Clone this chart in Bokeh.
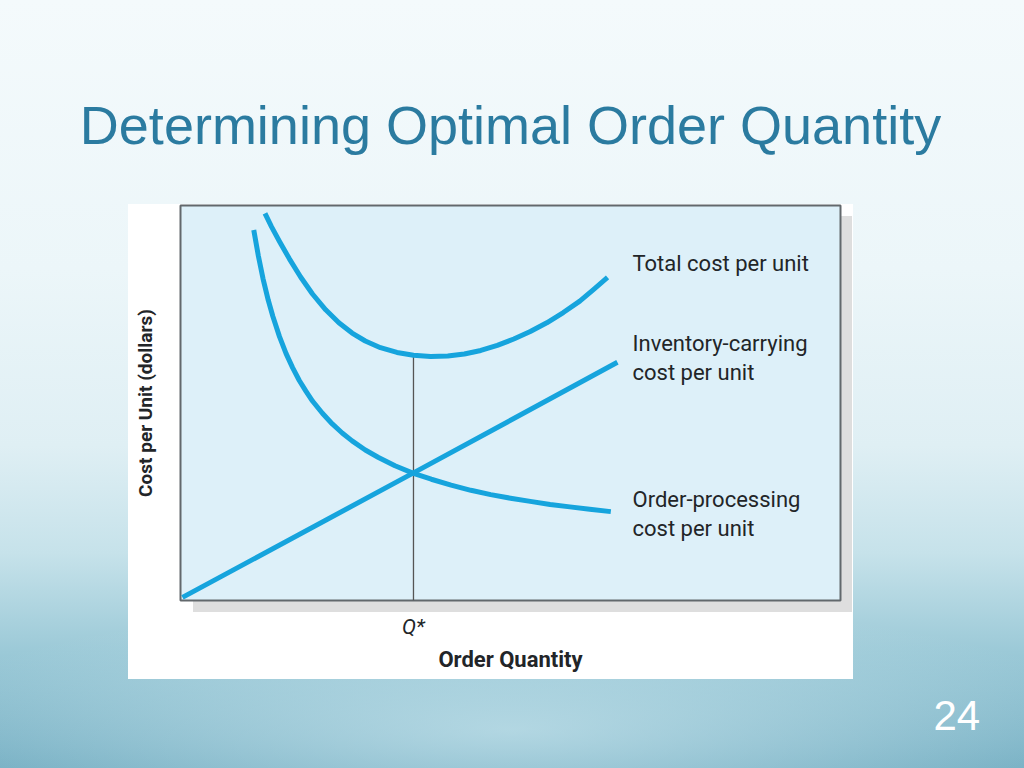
import numpy as np
from bokeh.plotting import figure
from bokeh.models import Title, FixedTicker, Range1d
from bokeh.core.properties import value
from bokeh.embed import file_html
from bokeh.resources import INLINE

# ---------------- data (arbitrary units 0-100) ----------------
total_x = [12.8, 13.8, 15.0, 16.5, 18.2, 20.0, 22.0, 24.0, 26.0, 28.0, 30.3, 32.8, 35.3,
           37.9, 40.5, 43.0, 45.5, 48.0, 50.5, 53.0, 55.5, 58.0, 60.5, 62.7, 64.7]
total_y = [98.0, 94.6, 90.9, 86.5, 81.9, 77.6, 73.6, 70.3, 67.7, 65.7, 64.0, 62.8, 62.1,
           61.8, 61.9, 62.4, 63.3, 64.6, 66.2, 68.1, 70.3, 72.9, 75.8, 78.9, 81.8]

carry_x = [0.3, 35.3, 66.2]
carry_y = [0.8, 32.3, 60.3]

order_x = [11.1, 11.8, 12.5, 13.3, 14.0, 15.0, 16.0, 17.0, 18.0, 19.0, 20.0, 21.5, 23.0,
           24.5, 26.0, 28.0, 30.0, 32.5, 35.3, 38.0, 41.0, 44.0, 47.0, 50.0, 53.0, 56.0,
           59.0, 62.0, 65.2]
order_y = [93.8, 87.2, 81.5, 76.0, 71.9, 66.8, 62.5, 58.9, 55.7, 53.0, 50.5, 47.4, 44.7,
           42.4, 40.4, 38.1, 36.2, 34.1, 32.2, 30.7, 29.2, 27.9, 26.8, 25.9, 25.1, 24.3,
           23.7, 23.1, 22.5]

q_star = 35.3
q_star_label = "Q*"
series_labels = ["Total cost per unit",
                 "Inventory-carrying\ncost per unit",
                 "Order-processing\ncost per unit"]
title_text = "Determining Optimal Order Quantity"
x_title = "Order Quantity"
y_title = "Cost per Unit (dollars)"
slide_number = "24"

# ---------------- layout (page pixel geometry) ----------------
W, H = 1024, 768
FL, FR, FT, FB = 180, 840, 205, 600      # plot frame in page pixels
PX_X = 100.0 / (FR - FL)                 # data units per horizontal pixel
PX_Y = 100.0 / (FB - FT)                 # data units per vertical pixel

COND = "Roboto"
SANS = "Liberation Sans"
LINE = "#16a4dd"
INK = "#222528"

p = figure(width=W, height=H, x_range=Range1d(0, 100), y_range=Range1d(0, 100),
           min_border_left=FL, min_border_right=W - FR,
           min_border_top=FT, min_border_bottom=H - FB,
           output_backend="svg", toolbar_location=None)
p.grid.visible = False
p.background_fill_color = "#ddf0f9"
p.border_fill_alpha = 0
p.outline_line_color = "#62686c"
p.outline_line_width = 2

# slide background, white chart card and its drop shadow (page decoration, CSS)
p.styles = {"background": (
    "linear-gradient(#dedede, #dedede) 193px 216px / 659px 396px no-repeat, "
    "linear-gradient(#ffffff, #ffffff) 128px 204px / 725px 475px no-repeat, "
    "radial-gradient(ellipse 620px 130px at 50% 95%, rgba(205,232,240,0.65), "
    "rgba(205,232,240,0) 100%), "
    "linear-gradient(180deg, #f4fafc 0%, #ecf6f9 35%, #dfeff4 58%, "
    "#c6e2ea 72%, #9bc9d7 85%, #74aec2 100%)")}

# Q* drop line
q_top = float(np.interp(q_star, total_x, total_y))
p.segment(x0=[q_star], y0=[0], x1=[q_star], y1=[q_top], line_color="#555555",
          line_width=1.3)

for xs, ys in ((carry_x, carry_y), (order_x, order_y), (total_x, total_y)):
    p.line(xs, ys, line_color=LINE, line_width=5, line_join="round")

# series labels next to the curve ends
lab_x = [(632 - FL) * PX_X] * 3
lab_y = [total_y[-1] + 14 * PX_Y, carry_y[-1] + 4 * PX_Y, order_y[-1] - 2 * PX_Y]
p.text(x=lab_x, y=lab_y, text=series_labels, text_font=value(COND),
       text_font_size="22px", text_color=INK, text_align="left",
       text_baseline="middle", text_line_height=1.15)

# axes
p.xaxis.ticker = FixedTicker(ticks=[q_star])
p.xaxis.major_label_overrides = {q_star: q_star_label}
p.xaxis.major_label_text_font = COND
p.xaxis.major_label_text_font_style = "italic"
p.xaxis.major_label_text_font_size = "21px"
p.xaxis.major_label_text_color = INK
p.xaxis.major_label_standoff = 14
p.xaxis.axis_label = x_title
p.xaxis.axis_label_text_font = COND
p.xaxis.axis_label_text_font_style = "bold"
p.xaxis.axis_label_text_font_size = "22px"
p.xaxis.axis_label_text_color = INK
p.xaxis.axis_label_standoff = 5

p.yaxis.ticker = FixedTicker(ticks=[])
p.yaxis.axis_label = y_title
p.yaxis.axis_label_text_font = COND
p.yaxis.axis_label_text_font_style = "bold"
p.yaxis.axis_label_text_font_size = "19px"
p.yaxis.axis_label_text_color = INK
p.yaxis.axis_label_standoff = 24

for ax in (p.xaxis[0], p.yaxis[0]):
    ax.axis_line_color = None
    ax.major_tick_line_color = None
    ax.minor_tick_line_color = None
    ax.major_tick_out = 0
    ax.major_tick_in = 0

# slide title and number
p.title.text = title_text
p.title.align = "center"
p.title.text_font = SANS
p.title.text_font_style = "normal"
p.title.text_font_size = "54px"
p.title.text_color = "#2b7ba0"
p.title.standoff = 102

p.add_layout(Title(text=slide_number, align="left", offset=753, standoff=52,
                   vertical_align="top", text_font=SANS, text_font_style="normal",
                   text_font_size="42px", text_color="white"), "below")

open("out.html", "w").write(file_html(p, INLINE))
